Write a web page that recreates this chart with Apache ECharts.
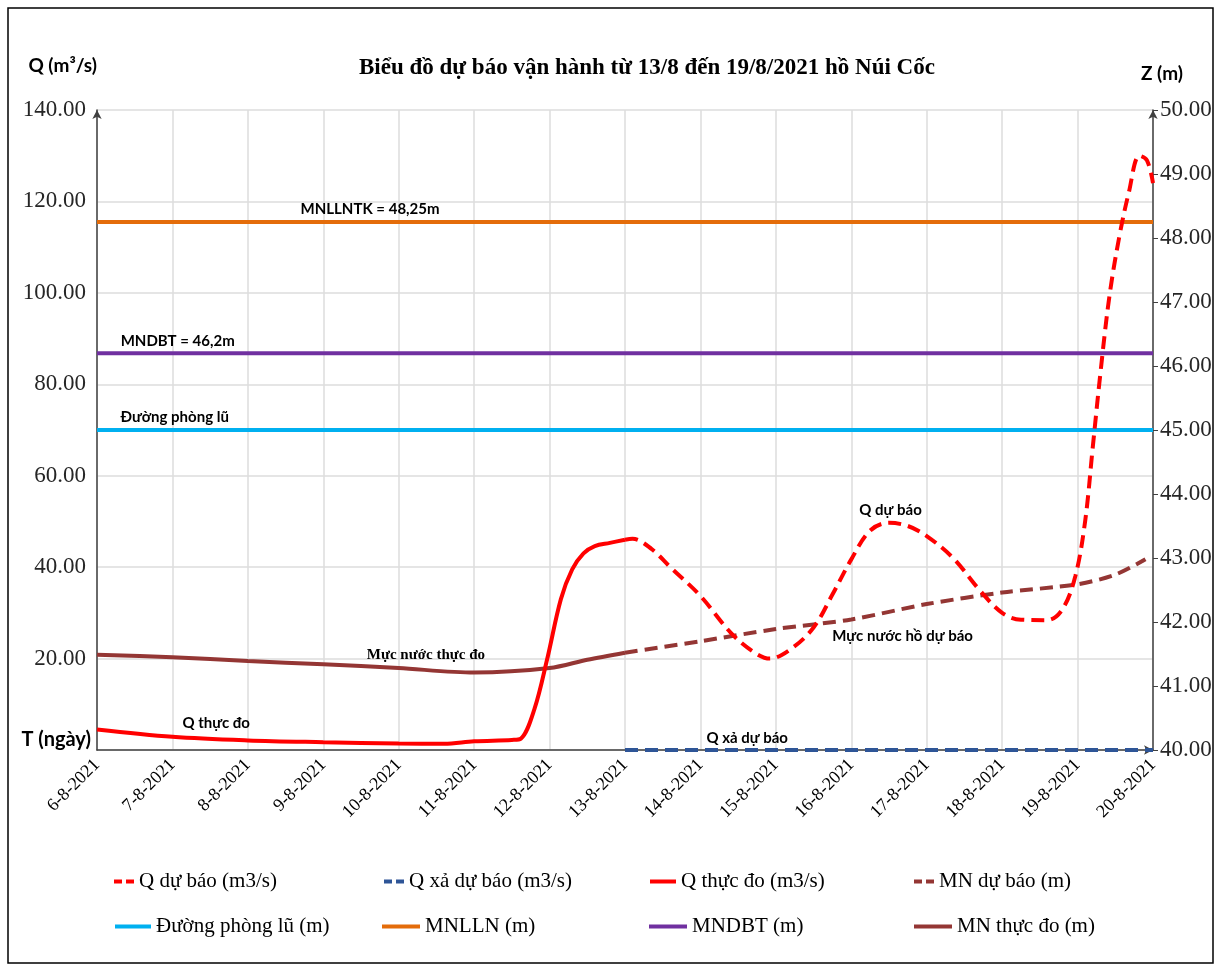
<!DOCTYPE html>
<html>
<head>
<meta charset="utf-8">
<title>Biểu đồ dự báo vận hành hồ Núi Cốc</title>
<script src="https://cdn.jsdelivr.net/npm/echarts@6/dist/echarts.min.js"></script>
<style>
	html, body { margin: 0; padding: 0; background: #fff; }
	#main { width: 1223px; height: 970px; }
</style>
</head>
<body>
<div id="main"></div>
<script>
// nhãn trục ngang (ngày)
var dates = ['6-8-2021', '7-8-2021', '8-8-2021', '9-8-2021', '10-8-2021', '11-8-2021', '12-8-2021',
	'13-8-2021', '14-8-2021', '15-8-2021', '16-8-2021', '17-8-2021', '18-8-2021', '19-8-2021', '20-8-2021'];

// Q thực đo (m3/s) - vị trí theo ngày tính từ 6-8
var qThucDoDay = [0, 1, 2, 3, 4, 4.6, 5, 5.5, 5.62, 5.8, 5.97, 6.15, 6.3, 6.45, 6.6, 6.8, 7];
var qThucDoVal = [4.5, 2.9, 2.1, 1.7, 1.4, 1.35, 1.9, 2.2, 2.5, 9, 20, 33, 39.5, 43, 44.6, 45.3, 46];

// Q dự báo (m3/s)
var qDuBaoDay = [7, 7.1, 7.35, 7.6, 8, 8.4, 8.7, 8.92, 9.2, 9.5, 9.75, 10, 10.25, 10.5, 10.75, 11, 11.35,
	11.7, 12, 12.25, 12.6, 12.8, 12.97, 13.1, 13.2, 13.3, 13.42, 13.55, 13.68, 13.82, 13.92, 14];
var qDuBaoVal = [46, 46.2, 44, 40, 33.7, 25.7, 21.5, 20, 22.1, 26.8, 34, 41.7, 48, 49.7, 49, 46.8, 42,
	35, 30, 28.5, 28.4, 30.8, 38, 50, 66, 82, 99, 112, 122, 130, 129, 124];

// Q xả dự báo (m3/s)
var qXaDay = [7, 14];
var qXaVal = [0, 0];

// Mực nước thực đo (m)
var mnThucDoDay = [0, 1, 2, 3, 4, 5, 6, 6.5, 7];
var mnThucDoVal = [41.49, 41.45, 41.39, 41.34, 41.28, 41.21, 41.28, 41.41, 41.52];

// Mực nước hồ dự báo (m)
var mnDuBaoDay = [7, 8, 9, 10, 11, 12, 13, 13.5, 13.9];
var mnDuBaoVal = [41.52, 41.7, 41.89, 42.04, 42.28, 42.46, 42.59, 42.74, 42.98];

// các mực nước đặc trưng (m)
var mnPhongLu = 45;
var mnDBT = 46.2;
var mnLLNTK = 48.25;
var lineDay = [0, 14];

function pairs(xs, ys) {
	var out = [];
	for (var i = 0; i < xs.length; i++) {
		out.push([xs[i], ys[i]]);
	}
	return out;
}

function level(v) {
	return [[lineDay[0], v], [lineDay[1], v]];
}

var serif = '"Liberation Serif", "Times New Roman", serif';
var sans = 'Lato, "Open Sans", sans-serif';

// nhãn chữ trên biểu đồ
function note(x, y, text, font, pos) {
	return {
		symbol: 'circle',
		symbolSize: 2,
		silent: true,
		itemStyle: { color: 'rgba(0,0,0,0)' },
		data: [{
			coord: [x, y],
			label: {
				show: true,
				position: pos || 'inside',
				distance: 4,
				formatter: text,
				color: '#000',
				fontFamily: font || sans,
				fontWeight: 'bold',
				fontSize: 15
			}
		}]
	};
}

var container = echarts.init(document.getElementById('main'));

function legendAt(name, left, top, w, dash) {
	return {
		data: [name],
		left: left,
		top: top,
		padding: 0,
		itemWidth: w,
		itemHeight: 10,
		itemGap: 0,
		itemStyle: { opacity: 0 },
		lineStyle: dash ? { type: [8, 4], width: 4 } : { width: 4 },
		textStyle: { fontFamily: serif, fontSize: 21, color: '#000' }
	};
}

container.setOption({
	animation: false,
	backgroundColor: '#fff',
	title: {
		text: 'Biểu đồ dự báo vận hành từ 13/8 đến 19/8/2021 hồ Núi Cốc',
		left: 354,
		top: 52,
		textStyle: { fontFamily: serif, fontSize: 23, fontWeight: 'bold', color: '#000' }
	},
	graphic: [{
		type: 'rect',
		shape: { x: 8, y: 8, width: 1205, height: 955 },
		style: { fill: 'none', stroke: '#000', lineWidth: 1.5 },
		silent: true
	}],
	legend: [
		legendAt('Q dự báo (m3/s)', 112, 871, 20, true),
		legendAt('Q xả dự báo (m3/s)', 382, 871, 20, true),
		legendAt('Q thực đo (m3/s)', 648, 871, 26, false),
		legendAt('MN dự báo (m)', 912, 871, 20, true),
		legendAt('Đường phòng lũ (m)', 113, 916, 36, false),
		legendAt('MNLLN (m)', 380, 916, 38, false),
		legendAt('MNDBT (m)', 647, 916, 38, false),
		legendAt('MN thực đo (m)', 912, 916, 38, false)
	],
	grid: {
		left: 97,
		right: 70,
		top: 110,
		bottom: 220
	},
	xAxis: {
		type: 'value',
		min: 0,
		max: 14,
		interval: 1,
		name: 'T (ngày)',
		nameLocation: 'start',
		nameGap: 6,
		nameTextStyle: { fontFamily: sans, fontWeight: 'bold', fontSize: 20, color: '#000', align: 'right', verticalAlign: 'bottom', padding: [0, 0, 0, 0] },
		axisLine: { lineStyle: { color: '#404040', width: 1.5 }, symbol: ['none', 'arrow'], symbolSize: [7, 9] },
		axisTick: { show: false },
		axisLabel: {
			rotate: 45,
			margin: 12,
			fontFamily: serif,
			fontSize: 18,
			color: '#000',
			formatter: function (v) { return dates[v]; }
		},
		splitLine: { show: true, lineStyle: { color: '#dcdcdc', width: 1.5 } }
	},
	yAxis: [{
		type: 'value',
		min: 0,
		max: 140,
		interval: 20,
		name: 'Q (m³/s)',
		nameLocation: 'end',
		nameGap: 44,
		nameTextStyle: { fontFamily: sans, fontWeight: 'bold', fontSize: 19, color: '#000', align: 'right', verticalAlign: 'middle' },
		axisLine: { show: true, lineStyle: { color: '#404040', width: 1.5 }, symbol: ['none', 'arrow'], symbolSize: [7, 9] },
		axisTick: { show: false },
		axisLabel: {
			showMinLabel: false,
			margin: 11,
			fontFamily: serif,
			fontSize: 23,
			color: '#262626',
			formatter: function (v) { return v.toFixed(2); }
		},
		splitLine: { show: true, lineStyle: { color: '#dcdcdc', width: 1.5 } }
	}, {
		type: 'value',
		min: 40,
		max: 50,
		interval: 1,
		name: 'Z (m)',
		nameLocation: 'end',
		nameGap: 36,
		nameTextStyle: { fontFamily: sans, fontWeight: 'bold', fontSize: 19, color: '#000', align: 'center', verticalAlign: 'middle', padding: [0, 0, 0, 18] },
		axisLine: { show: true, lineStyle: { color: '#404040', width: 1.5 }, symbol: ['none', 'arrow'], symbolSize: [7, 9] },
		axisTick: { show: true, length: 5, lineStyle: { color: '#404040' } },
		axisLabel: {
			margin: 7,
			fontFamily: serif,
			fontSize: 23,
			color: '#262626',
			formatter: function (v) { return v.toFixed(2); }
		},
		splitLine: { show: false }
	}],
	series: [{
		name: 'Q dự báo (m3/s)',
		type: 'line',
		z: 6,
		symbol: 'none',
		smooth: 0.35,
		data: pairs(qDuBaoDay, qDuBaoVal),
		lineStyle: { color: '#ff0000', width: 4, type: [13, 7] },
		itemStyle: { color: '#ff0000' },
		markPoint: note(10.52, 52.5, 'Q dự báo')
	}, {
		name: 'Q xả dự báo (m3/s)',
		type: 'line',
		z: 5,
		symbol: 'none',
		data: pairs(qXaDay, qXaVal),
		lineStyle: { color: '#2e5597', width: 4, type: [13, 7] },
		itemStyle: { color: '#2e5597' },
		markPoint: note(8.62, 2.6, 'Q xả dự báo')
	}, {
		name: 'Q thực đo (m3/s)',
		type: 'line',
		z: 6,
		symbol: 'none',
		smooth: 0.35,
		data: pairs(qThucDoDay, qThucDoVal),
		lineStyle: { color: '#ff0000', width: 4 },
		itemStyle: { color: '#ff0000' },
		markPoint: note(1.58, 5.9, 'Q thực đo')
	}, {
		name: 'MN dự báo (m)',
		type: 'line',
		yAxisIndex: 1,
		z: 4,
		symbol: 'none',
		smooth: 0.3,
		data: pairs(mnDuBaoDay, mnDuBaoVal),
		lineStyle: { color: '#943634', width: 4, type: [13, 7] },
		itemStyle: { color: '#943634' },
		markPoint: note(10.68, 41.78, 'Mực nước hồ dự báo')
	}, {
		name: 'Đường phòng lũ (m)',
		type: 'line',
		yAxisIndex: 1,
		z: 3,
		symbol: 'none',
		data: level(mnPhongLu),
		lineStyle: { color: '#00b0f0', width: 4 },
		itemStyle: { color: '#00b0f0' },
		markPoint: note(1.03, mnPhongLu, 'Đường phòng lũ', sans, 'top')
	}, {
		name: 'MNLLN (m)',
		type: 'line',
		yAxisIndex: 1,
		z: 3,
		symbol: 'none',
		data: level(mnLLNTK),
		lineStyle: { color: '#e46c0a', width: 4 },
		itemStyle: { color: '#e46c0a' },
		markPoint: note(3.62, mnLLNTK, 'MNLLNTK = 48,25m', sans, 'top')
	}, {
		name: 'MNDBT (m)',
		type: 'line',
		yAxisIndex: 1,
		z: 3,
		symbol: 'none',
		data: level(mnDBT),
		lineStyle: { color: '#7030a0', width: 4 },
		itemStyle: { color: '#7030a0' },
		markPoint: note(1.07, mnDBT, 'MNDBT = 46,2m', sans, 'top')
	}, {
		name: 'MN thực đo (m)',
		type: 'line',
		yAxisIndex: 1,
		z: 4,
		symbol: 'none',
		smooth: 0.3,
		data: pairs(mnThucDoDay, mnThucDoVal),
		lineStyle: { color: '#943634', width: 4 },
		itemStyle: { color: '#943634' },
		markPoint: note(4.36, 41.48, 'Mực nước thực đo', serif)
	}]
});
</script>
</body>
</html>
